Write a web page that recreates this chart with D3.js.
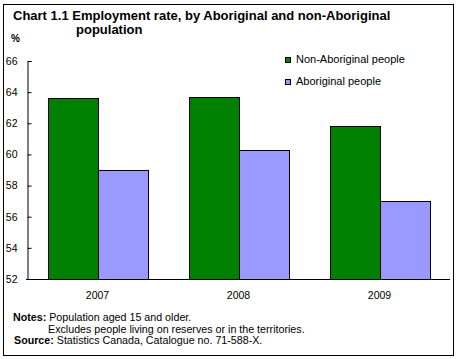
<!DOCTYPE html>
<html><head><meta charset="utf-8">
<script src="https://cdn.jsdelivr.net/npm/d3@7/dist/d3.min.js"></script>
<style>body{margin:0;background:#fff}svg{display:block}text{font-family:"Liberation Sans",Arial,sans-serif}</style>
</head><body><svg id="c" width="457" height="359"></svg>
<script>
const years = ["2007", "2008", "2009"];
const seriesNames = ["Non-Aboriginal people", "Aboriginal people"];
const nonAboriginal = [63.6, 63.7, 61.8];
const aboriginal = [59.0, 60.3, 57.0];
const yTicks = [52, 54, 56, 58, 60, 62, 64, 66];
const colors = ["#008000", "#9999ff"];
const values = [nonAboriginal, aboriginal];

const svg = d3.select("#c");
svg.append("rect").attr("x", 3.5).attr("y", 4.5).attr("width", 450).attr("height", 351)
  .attr("fill", "#fff").attr("stroke", "#000").attr("stroke-width", 1);

const y = d3.scaleLinear().domain([52, 66]).range([279, 61]);
const x0 = d3.scaleBand().domain(years).range([27, 450]).padding(0);
const x1 = d3.scaleBand().domain(seriesNames).range([0, x0.bandwidth()]).paddingInner(0).paddingOuter(0.41);

// bars
seriesNames.forEach((s, si) => {
  svg.append("g").selectAll("rect").data(years).join("rect")
    .attr("x", d => Math.round(x0(d) + x1(s)) + 0.5)
    .attr("y", (d, i) => Math.round(y(values[si][i])) + 0.5)
    .attr("width", Math.round(x1.bandwidth()))
    .attr("height", (d, i) => Math.round(y(52)) - Math.round(y(values[si][i])))
    .attr("fill", colors[si]).attr("stroke", "#000").attr("stroke-width", 1);
});

// y axis
const yAxis = d3.axisLeft(y).tickValues(yTicks).tickSize(-4).tickPadding(10).tickFormat(d3.format("d"));
const gy = svg.append("g").attr("transform", "translate(27.5,0)").call(yAxis);
gy.select(".domain").attr("stroke", "#000");
gy.selectAll(".tick line").attr("stroke", "#000");
gy.selectAll("text").attr("font-size", "10.5px").attr("fill", "#000").attr("font-family", "Liberation Sans, Arial, sans-serif");

// x axis
const xAxis = d3.axisBottom(x0).tickSize(0).tickPadding(12);
const gx = svg.append("g").attr("transform", "translate(0,279.5)").call(xAxis);
gx.select(".domain").attr("stroke", "#000").attr("d", "M26,0H450");
gx.selectAll("text").attr("font-size", "10.5px").attr("fill", "#000").attr("font-family", "Liberation Sans, Arial, sans-serif");

// title
svg.append("text").attr("x", 13).attr("y", 20).attr("font-size", "13px").attr("font-weight", "bold")
  .text("Chart 1.1 Employment rate, by Aboriginal and non-Aboriginal");
svg.append("text").attr("x", 76).attr("y", 34).attr("font-size", "13px").attr("font-weight", "bold")
  .text("population");
svg.append("text").attr("x", 11).attr("y", 42).attr("font-size", "10px").attr("font-weight", "bold").text("%");

// legend
seriesNames.forEach((s, i) => {
  const ly = 57.5 + i * 22;
  svg.append("rect").attr("x", 285.5).attr("y", ly).attr("width", 5).attr("height", 5)
    .attr("fill", colors[i]).attr("stroke", "#000").attr("stroke-width", 1);
  svg.append("text").attr("x", 296).attr("y", ly + 5.5).attr("font-size", "11px").text(s);
});

// notes
svg.append("text").attr("x", 13).attr("y", 321).attr("font-size", "10.7px")
  .call(t => { t.append("tspan").attr("font-weight", "bold").text("Notes: "); t.append("tspan").text("Population aged 15 and older."); });
svg.append("text").attr("x", 48).attr("y", 332.5).attr("font-size", "10.7px").text("Excludes people living on reserves or in the territories.");
svg.append("text").attr("x", 14).attr("y", 344).attr("font-size", "10.7px")
  .call(t => { t.append("tspan").attr("font-weight", "bold").text("Source: "); t.append("tspan").text("Statistics Canada, Catalogue no. 71-588-X."); });
</script></body></html>
